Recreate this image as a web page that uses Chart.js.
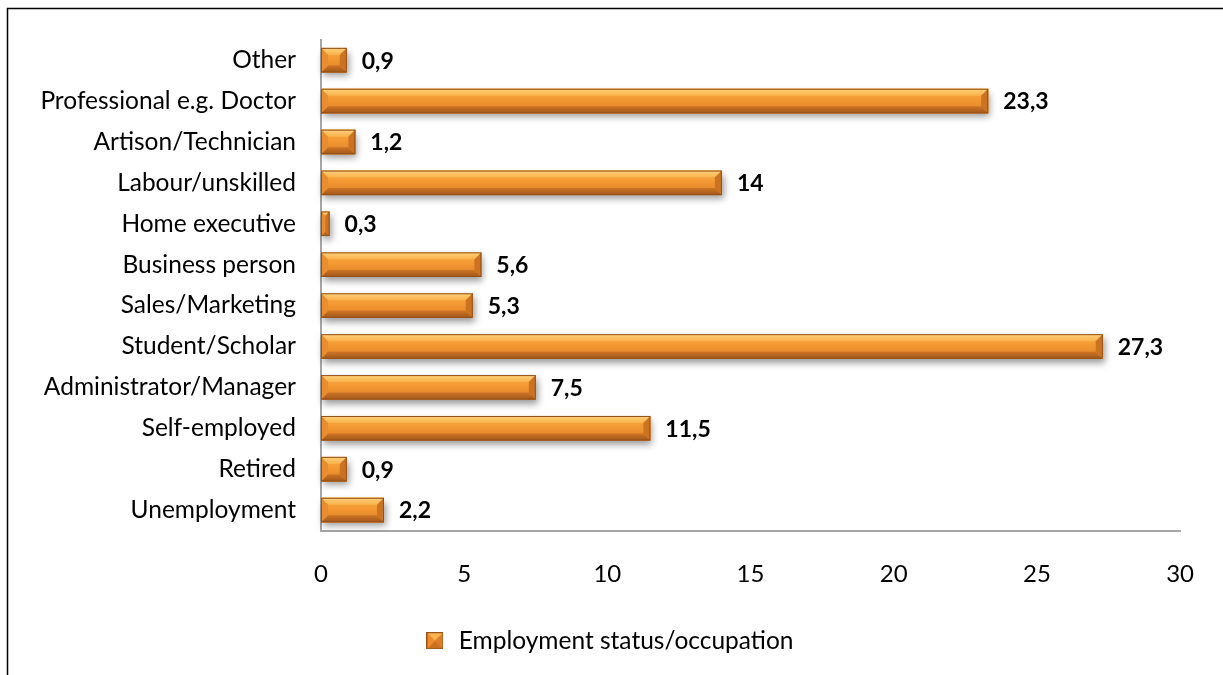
<!DOCTYPE html>
<html>
<head>
<meta charset="utf-8">
<title>Employment status/occupation</title>
<script src="https://cdn.jsdelivr.net/npm/chart.js@4.4.1/dist/chart.umd.min.js"></script>
<style>
  html, body { margin: 0; padding: 0; background: #ffffff; }
  #wrap { width: 1223px; height: 675px; position: relative; }
</style>
</head>
<body>
<div id="wrap"><canvas id="chart" width="1223" height="675"></canvas></div>
<script>
// Categories, listed from the top row down
const categories = [
  'Other',
  'Professional e.g. Doctor',
  'Artison/Technician',
  'Labour/unskilled',
  'Home executive',
  'Business person',
  'Sales/Marketing',
  'Student/Scholar',
  'Administrator/Manager',
  'Self-employed',
  'Retired',
  'Unemployment'
];
// Share of respondents (%)
const values = [0.9, 23.3, 1.2, 14, 0.3, 5.6, 5.3, 27.3, 7.5, 11.5, 0.9, 2.2];
const seriesName = 'Employment status/occupation';
const xTicks = [0, 5, 10, 15, 20, 25, 30];

const FONT = 'Lato, "Open Sans", sans-serif';
const PAD_BOTTOM = 12;
const PAD_LEFT = 34;

// Small bevelled square used as the legend marker
function makeLegendSwatch(size) {
  const c = document.createElement('canvas');
  c.width = size; c.height = size;
  const g = c.getContext('2d');
  const m = size / 2;
  g.fillStyle = '#F39A33';
  g.fillRect(0, 0, size, size);
  const tri = (pts, col) => {
    g.beginPath(); g.moveTo(pts[0][0], pts[0][1]);
    for (let i = 1; i < pts.length; i++) g.lineTo(pts[i][0], pts[i][1]);
    g.closePath(); g.fillStyle = col; g.fill();
  };
  tri([[0,0],[size,0],[m,m]], '#FBB451');
  tri([[0,size],[size,size],[m,m]], '#C9711F');
  tri([[0,0],[0,size],[m,m]], '#EC8C2A');
  tri([[size,0],[size,size],[m,m]], '#DC7E26');
  g.strokeStyle = '#9A5418'; g.lineWidth = 1;
  g.strokeRect(0.5, 0.5, size - 1, size - 1);
  return c;
}
const legendSwatch = makeLegendSwatch(17);

function barRect(el) {
  const p = el.getProps(['x', 'y', 'base', 'height'], true);
  const left = Math.min(p.base, p.x), right = Math.max(p.base, p.x);
  return { left, right, top: p.y - p.height / 2, bottom: p.y + p.height / 2 };
}

function poly(ctx, pts, fill) {
  ctx.beginPath(); ctx.moveTo(pts[0][0], pts[0][1]);
  for (let i = 1; i < pts.length; i++) ctx.lineTo(pts[i][0], pts[i][1]);
  ctx.closePath(); ctx.fillStyle = fill; ctx.fill();
}

// White page with a thin frame along the top and left edges
const framePlugin = {
  id: 'frame',
  beforeDraw(chart) {
    const ctx = chart.ctx;
    ctx.save();
    ctx.fillStyle = '#ffffff';
    ctx.fillRect(0, 0, chart.width, chart.height);
    ctx.strokeStyle = '#000000';
    ctx.lineWidth = 1.5;
    ctx.beginPath();
    ctx.moveTo(7.5, chart.height);
    ctx.lineTo(7.5, 8.5);
    ctx.lineTo(chart.width, 8.5);
    ctx.stroke();
    ctx.restore();
  }
};

// Soft drop shadow under each bar, then a bevelled face on top of it
const bevelPlugin = {
  id: 'bevel',
  beforeDatasetsDraw(chart) {
    const ctx = chart.ctx;
    const meta = chart.getDatasetMeta(0);
    ctx.save();
    meta.data.forEach(el => {
      const r = barRect(el);
      ctx.shadowColor = 'rgba(0,0,0,0.4)';
      ctx.shadowBlur = 7;
      ctx.shadowOffsetX = 2;
      ctx.shadowOffsetY = 4;
      ctx.fillStyle = '#E8872A';
      ctx.fillRect(r.left, r.top, r.right - r.left, r.bottom - r.top);
    });
    ctx.restore();
  },
  afterDatasetsDraw(chart) {
    const ctx = chart.ctx;
    const meta = chart.getDatasetMeta(0);
    ctx.save();
    meta.data.forEach(el => {
      const { left, right, top, bottom } = barRect(el);
      const w = right - left, h = bottom - top;
      const b = Math.min(7, w / 2, h / 3);
      const face = ctx.createLinearGradient(0, top, 0, bottom);
      face.addColorStop(0, '#FBAF48');
      face.addColorStop(0.45, '#F39832');
      face.addColorStop(1, '#DF7E28');
      ctx.fillStyle = face;
      ctx.fillRect(left, top, w, h);
      const topG = ctx.createLinearGradient(0, top, 0, top + b);
      topG.addColorStop(0, '#FFD27C');
      topG.addColorStop(1, '#FAB14A');
      poly(ctx, [[left, top], [right, top], [right - b, top + b], [left + b, top + b]], topG);
      const botG = ctx.createLinearGradient(0, bottom - b, 0, bottom);
      botG.addColorStop(0, '#CB7425');
      botG.addColorStop(1, '#A3571A');
      poly(ctx, [[left, bottom], [right, bottom], [right - b, bottom - b], [left + b, bottom - b]], botG);
      poly(ctx, [[left, top], [left + b, top + b], [left + b, bottom - b], [left, bottom]], '#EA8D2E');
      poly(ctx, [[right, top], [right - b, top + b], [right - b, bottom - b], [right, bottom]], '#CC7323');
      ctx.strokeStyle = '#94511A';
      ctx.lineWidth = 1;
      ctx.strokeRect(left + 0.5, top + 0.5, w - 1, h - 1);
    });
    ctx.restore();
  }
};

// Value printed just past the end of each bar
const valueLabelPlugin = {
  id: 'valueLabels',
  afterDatasetsDraw(chart) {
    const ctx = chart.ctx;
    const meta = chart.getDatasetMeta(0);
    ctx.save();
    ctx.font = 'bold 23px ' + FONT;
    ctx.fillStyle = '#000000';
    ctx.textAlign = 'left';
    ctx.textBaseline = 'middle';
    meta.data.forEach((el, i) => {
      const r = barRect(el);
      const txt = String(values[i]).replace('.', ',');
      ctx.fillText(txt, r.right + 15, el.y + 1);
    });
    ctx.restore();
  }
};

new Chart(document.getElementById('chart'), {
  type: 'bar',
  data: {
    labels: categories,
    datasets: [{
      label: seriesName,
      data: values,
      backgroundColor: '#F39A33',
      borderWidth: 0,
      categoryPercentage: 0.6,
      barPercentage: 1.0
    }]
  },
  options: {
    indexAxis: 'y',
    responsive: false,
    animation: false,
    devicePixelRatio: 1,
    layout: { padding: { top: 38, right: 40, bottom: PAD_BOTTOM, left: PAD_LEFT } },
    scales: {
      x: {
        min: 0,
        max: 30,
        afterBuildTicks(scale) { scale.ticks = xTicks.map(v => ({ value: v })); },
        afterFit(scale) {
          const lh = scale.chart.legend ? scale.chart.legend.height : 0;
          scale.height = scale.chart.height - PAD_BOTTOM - lh - 530.5;
        },
        grid: { display: false, drawTicks: false },
        border: { display: true, color: '#A6A6A6', width: 2 },
        ticks: { color: '#000000', font: { family: FONT, size: 24 }, padding: 29 }
      },
      y: {
        afterFit(scale) { scale.width = 321 - PAD_LEFT; },
        grid: { display: false, drawTicks: false },
        border: { display: true, color: '#A6A6A6', width: 2 },
        ticks: { color: '#000000', font: { family: FONT, size: 24.5 }, padding: 25 }
      }
    },
    plugins: {
      legend: {
        position: 'bottom',
        labels: {
          usePointStyle: true,
          pointStyle: legendSwatch,
          boxWidth: 23,
          boxHeight: 17,
          color: '#000000',
          font: { family: FONT, size: 24.5 },
          padding: 10
        }
      },
      tooltip: { enabled: false }
    }
  },
  plugins: [framePlugin, bevelPlugin, valueLabelPlugin]
});
</script>
</body>
</html>
